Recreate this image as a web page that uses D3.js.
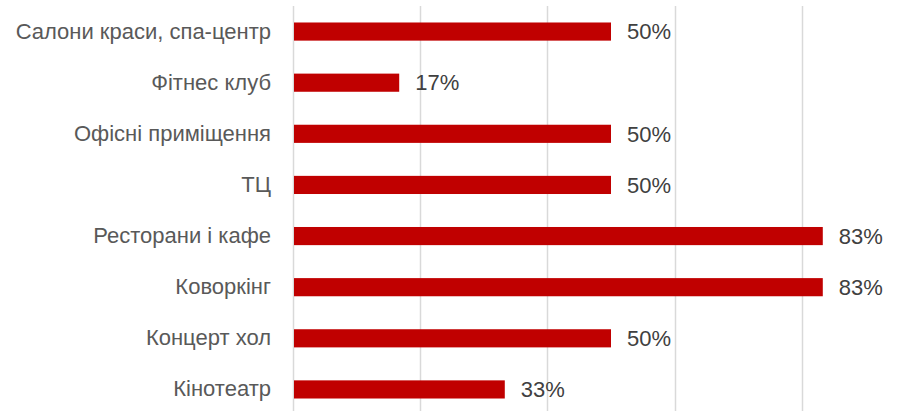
<!DOCTYPE html>
<html>
<head>
<meta charset="utf-8">
<script src="https://cdn.jsdelivr.net/npm/d3@7"></script>
<style>
  html, body { margin: 0; padding: 0; background: #ffffff; }
  svg { display: block; }
</style>
</head>
<body>
<svg id="chart" width="921" height="411"></svg>
<script>
// Share of respondents by venue type
const categories = [
  "Салони краси, спа-центр",
  "Фітнес клуб",
  "Офісні приміщення",
  "ТЦ",
  "Ресторани і кафе",
  "Коворкінг",
  "Концерт хол",
  "Кінотеатр"
];
const shares = [0.5, 0.167, 0.5, 0.5, 0.833, 0.833, 0.5, 0.333];
const gridTicks = [0, 0.2, 0.4, 0.6, 0.8];

const svg = d3.select("#chart");

const x = d3.scaleLinear().domain([0, 1]).range([293, 929]);
const y = d3.scaleBand()
  .domain(categories)
  .range([6, 415])
  .paddingInner(0.645)
  .paddingOuter(0.3225);

// vertical gridlines
svg.append("g")
  .selectAll("line")
  .data(gridTicks)
  .join("line")
  .attr("x1", d => Math.round(x(d)) + 0.5)
  .attr("x2", d => Math.round(x(d)) + 0.5)
  .attr("y1", 6)
  .attr("y2", 411)
  .attr("stroke", "#d9d9d9")
  .attr("stroke-width", 1.5);

// bars
svg.append("g")
  .selectAll("rect")
  .data(categories)
  .join("rect")
  .attr("x", x(0) + 1)
  .attr("y", d => y(d))
  .attr("width", (d, i) => x(shares[i]) - x(0) - 1)
  .attr("height", y.bandwidth())
  .attr("fill", "#c00000");

// category labels
const yAxis = d3.axisLeft(y).tickSize(0).tickPadding(22);
svg.append("g")
  .attr("transform", `translate(${x(0)},0)`)
  .call(yAxis)
  .call(g => g.select(".domain").remove())
  .call(g => g.selectAll("text")
    .attr("font-family", "'Liberation Sans', Arial, sans-serif")
    .attr("font-size", 22)
    .attr("fill", "#595959"));

// value labels
const fmt = d3.format(".0%");
svg.append("g")
  .selectAll("text")
  .data(categories)
  .join("text")
  .attr("x", (d, i) => x(shares[i]) + 16)
  .attr("y", d => y(d) + y.bandwidth() / 2)
  .attr("dy", "0.35em")
  .attr("font-family", "'Liberation Sans', Arial, sans-serif")
  .attr("font-size", 22)
  .attr("fill", "#404040")
  .text((d, i) => fmt(shares[i]));
</script>
</body>
</html>
